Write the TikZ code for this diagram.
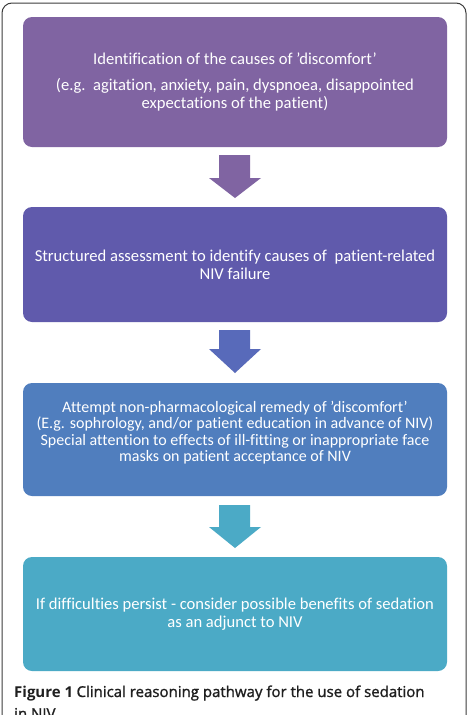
\documentclass[tikz,border=0pt]{standalone}
\usepackage{fontspec}
\setmainfont{Carlito}[Ligatures={NoCommon}]
\newfontfamily\capfont{Open Sans}
\newfontfamily\capmed{Open Sans}[FakeBold=1.3]
\newcommand{\sq}{\symbol{39}}
\definecolor{cA}{RGB}{128,100,162}
\definecolor{cB}{RGB}{96,90,172}
\definecolor{cC}{RGB}{80,126,190}
\definecolor{cD}{RGB}{75,170,198}
\definecolor{aB}{RGB}{88,106,186}
\definecolor{frame}{RGB}{60,60,60}
\tikzset{
  box/.style={fill=#1, draw=none, rounded corners=9pt, minimum width=424pt,
    text=white, align=center, inner sep=0pt},
  boxtext/.style={text=white, align=center, inner sep=0pt},
  blockarr/.style={fill=#1, draw=none},
  boxfont/.style={font=\fontsize{16.6}{18}\selectfont},
  capstyle/.style={anchor=base west, inner sep=0pt, text=black!88, font=\fontsize{15}{19}\selectfont},
}
\begin{document}
\begin{tikzpicture}[x=1pt,y=-1pt]
\useasboundingbox (0,0) rectangle (471,715);
\fill[white] (0,0) rectangle (471,715);
\draw[frame, line width=1pt, rounded corners=10pt] (2,3) rectangle (466,740);
\node[box=cA, boxfont, minimum height=130pt] (b1) at (235,82)
  {Identification of the causes of \sq discomfort\sq\\[8pt]
   (e.g.\ \ agitation, anxiety, pain, dyspnoea, disappointed\\
   expectations of the patient)};
\node[box=cB, boxfont, minimum height=115pt] (b2) at (235,264.5)
  {Structured assessment to identify causes of \ patient-related\\
   NIV failure};
\node[box=cC, minimum height=113pt] (b3) at (235,439.5) {};
\node[boxtext, font=\fontsize{16}{16.3}\selectfont] (t3) at (235,432.5)
  {Attempt non-pharmacological remedy of \sq discomfort\sq\\
   (E.g. sophrology, and/or patient education in advance of NIV)\\
   Special attention to effects of ill-fitting or inappropriate face\\
   masks on patient acceptance of NIV};
\node[box=cD, boxfont, minimum height=114pt] (b4) at (235,614)
  {If difficulties persist - consider possible benefits of sedation\\
   as an adjunct to NIV};
\fill[blockarr=cA] (219,155) -- (250,155) -- (250,178) -- (261,178) -- (235,198) -- (209,178) -- (219,178) -- cycle;
\fill[blockarr=aB] (219,330) -- (250,330) -- (250,349) -- (261,349) -- (235,373) -- (209,349) -- (219,349) -- cycle;
\fill[blockarr=cD] (219,505) -- (250,505) -- (250,527) -- (261,527) -- (235,548) -- (209,527) -- (219,527) -- cycle;
\node[capstyle] (cap1) at (14,697)
  {{\capfont\bfseries Figure 1} {\capmed Clinical reasoning pathway for the use of sedation}};
\node[capstyle] (cap2) at (14,719)
  {\capmed in NIV};
\end{tikzpicture}
\end{document}
